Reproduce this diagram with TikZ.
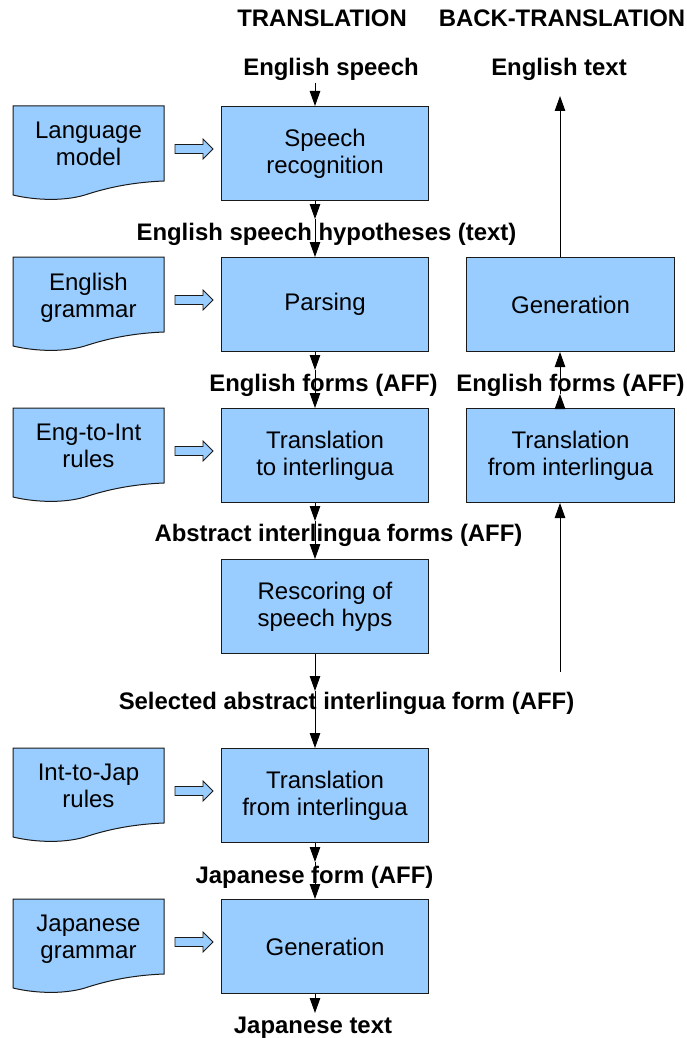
\documentclass[tikz,border=0pt]{standalone}
\usepackage{fontspec}
\setmainfont{Liberation Sans}
\usetikzlibrary{arrows.meta,calc}
\definecolor{boxblue}{HTML}{99CCFF}
\definecolor{edgecol}{HTML}{1A1A1A}
\tikzset{
 procbox/.style={draw=edgecol, fill=boxblue, line width=1pt, minimum width=207pt, minimum height=94pt, inner sep=0pt, align=center, font=\fontsize{24}{27}\selectfont, anchor=north west},
 docshape/.style={draw=edgecol, fill=boxblue, line width=1pt},
 doctext/.style={align=center, font=\fontsize{24}{27}\selectfont, inner sep=0pt, anchor=north},
 lbl/.style={font=\bfseries\fontsize{23.9}{27}\selectfont, inner sep=0pt, anchor=base},
 flow/.style={-{Triangle[length=15pt,width=10.5pt]}, line width=1pt, draw=black},
 fatarrow/.style={draw=edgecol, fill=boxblue, line width=0.8pt},
}
\newcommand{\docnode}[4]{%
  \draw[docshape, shift={(13,#2)}] (0,0) -- (151,0) -- (151,75) .. controls (125,76) and (100,80) .. (75,88) .. controls (55,95) and (25,95) .. (0,89) -- cycle;
  \node[doctext] (#1) at (88.5,#2+16) {#3\\#4};
  \draw[fatarrow, shift={(0,#2+43)}] (175,-4.5) -- (203,-4.5) -- (203,-10) -- (213,0) -- (203,10) -- (203,4.5) -- (175,4.5) -- cycle;
}
\begin{document}
\begin{tikzpicture}[x=1pt,y=-1pt]
\useasboundingbox (0,0) rectangle (686,1038);
\coordinate (mx) at (315,0);
\coordinate (bx) at (560,0);
% process boxes
\node[procbox] (sr) at (221,106) {Speech\\recognition};
\node[procbox] (parse) at (221,257) {Parsing};
\node[procbox] (t2i) at (221,408) {Translation\\to interlingua};
\node[procbox] (resc) at (221,559) {Rescoring of\\speech hyps};
\node[procbox] (tfi) at (221,748) {Translation\\from interlingua};
\node[procbox] (gen) at (221,899) {Generation};
\node[procbox, minimum width=208pt] (rgen) at (466,257) {Generation};
\node[procbox, minimum width=208pt] (rtfi) at (466,408) {Translation\\from interlingua};
% documents
\docnode{lm}{106}{Language}{model}
\docnode{eg}{257}{English}{grammar}
\docnode{ei}{408}{Eng-to-Int}{rules}
\docnode{ij}{748}{Int-to-Jap}{rules}
\docnode{jg}{899}{Japanese}{grammar}
% labels
\node[lbl] (t1) at (322,27) {TRANSLATION};
\node[lbl] (t2) at (562,27) {BACK-TRANSLATION};
\node[lbl] (l1) at (331,76) {English speech};
\node[lbl] (et) at (559,76) {English text};
\node[lbl] (l2) at (326.5,240) {English speech hypotheses (text)};
\node[lbl] (l3) at (323.5,391) {English forms (AFF)};
\node[lbl] (rl) at (570.5,391) {English forms (AFF)};
\node[lbl] (l4) at (338.5,541) {Abstract interlingua forms (AFF)};
\node[lbl] (l5) at (346.5,709) {Selected abstract interlingua form (AFF)};
\node[lbl] (l6) at (314.5,883) {Japanese form (AFF)};
\node[lbl] (l7) at (313,1033) {Japanese text};
\coordinate (selup) at (560,672);
% main chain
\draw[flow] ($(l1.base -| mx)+(0,7)$) -- (sr.north -| mx);
\draw[flow] (sr.south -| mx) -- ($(l2.base -| mx)+(0,-21)$);
\draw[flow] ($(l2.base -| mx)+(0,-21)$) -- (parse.north -| mx);
\draw[flow] (parse.south -| mx) -- ($(l3.base -| mx)+(0,-21)$);
\draw[flow] ($(l3.base -| mx)+(0,-21)$) -- (t2i.north -| mx);
\draw[flow] (t2i.south -| mx) -- ($(l4.base -| mx)+(0,-20)$);
\draw[flow] ($(l4.base -| mx)+(0,-20)$) -- (resc.north -| mx);
\draw[flow] (resc.south -| mx) -- ($(l5.base -| mx)+(0,-18)$);
\draw[flow] ($(l5.base -| mx)+(0,-18)$) -- (tfi.north -| mx);
\draw[flow] (tfi.south -| mx) -- ($(l6.base -| mx)+(0,-21)$);
\draw[flow] ($(l6.base -| mx)+(0,-21)$) -- (gen.north -| mx);
\draw[flow] (gen.south -| mx) -- ($(l7.base -| mx)+(0,-20)$);
% back-translation chain
\draw[flow] (selup) -- (rtfi.south -| bx);
\draw[flow] (rtfi.north -| bx) -- ($(rl.base -| bx)+(0,3)$);
\draw[flow] ($(rl.base -| bx)+(0,3)$) -- (rgen.south -| bx);
\draw[flow] (rgen.north -| bx) -- ($(et.base -| bx)+(0,20)$);
\end{tikzpicture}
\end{document}
